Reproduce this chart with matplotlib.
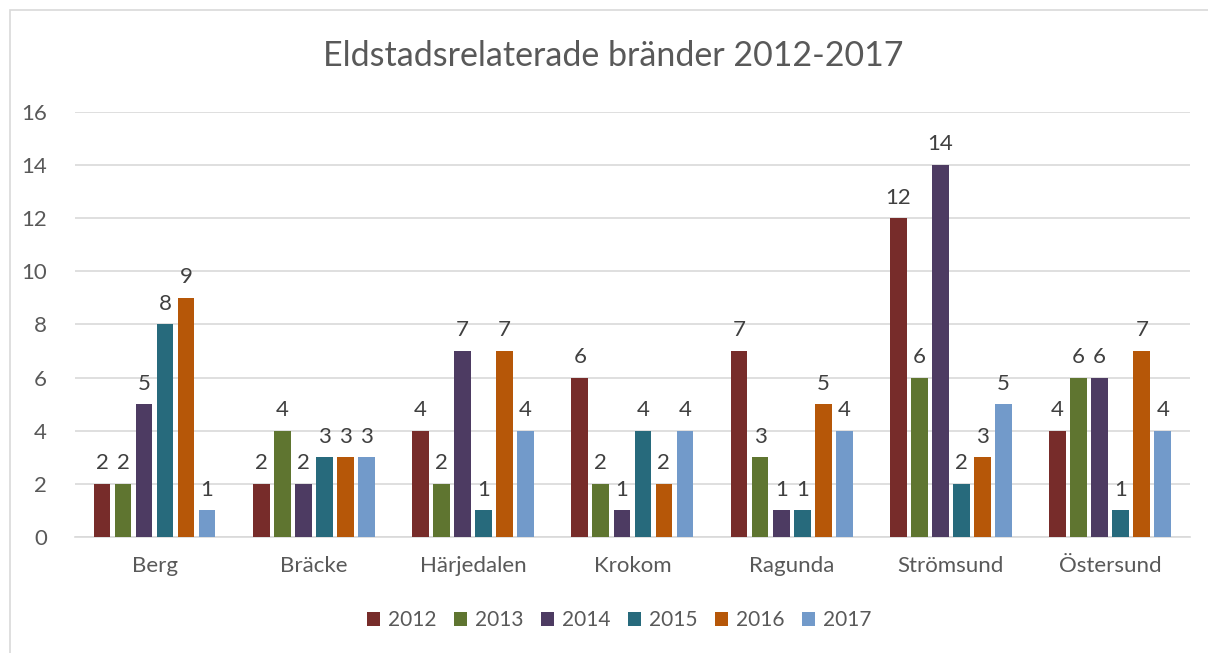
import numpy as np
import matplotlib.pyplot as plt
from matplotlib.patches import Rectangle

# Data
kommuner = ['Berg', 'Bräcke', 'Härjedalen', 'Krokom', 'Ragunda', 'Strömsund', 'Östersund']
years = ['2012', '2013', '2014', '2015', '2016', '2017']
v2012 = [2, 2, 4, 6, 7, 12, 4]
v2013 = [2, 4, 2, 2, 3, 6, 6]
v2014 = [5, 2, 7, 1, 1, 14, 6]
v2015 = [8, 3, 1, 4, 1, 2, 1]
v2016 = [9, 3, 7, 2, 5, 3, 7]
v2017 = [1, 3, 4, 4, 4, 5, 4]
series = [v2012, v2013, v2014, v2015, v2016, v2017]
colors = ['#772C2A', '#5F7530', '#4D3B62', '#276A7C', '#B65708', '#729ACA']

plt.rcParams['font.family'] = ['Lato', 'DejaVu Sans']
txt = '#595959'

fig = plt.figure(figsize=(12.08, 6.53), dpi=100)
ax = fig.add_axes([0.062, 0.1777, 0.923, 0.6508])

# chart border (light grey)
fig.patches.append(Rectangle((10 / 1208, -0.1), 1.2, 1 - 10 / 653 + 0.1,
                             transform=fig.transFigure, fill=False,
                             edgecolor='#D9D9D9', linewidth=1.2))

x = np.arange(len(kommuner))
step = 0.132
width = 0.105
for i, (vals, c, y) in enumerate(zip(series, colors, years)):
    pos = x + (i - 2.5) * step
    bars = ax.bar(pos, vals, width=width, color=c, label=y, zorder=3)
    for b, v in zip(bars, vals):
        ax.text(b.get_x() + b.get_width() / 2, v + 0.4, str(v),
                ha='center', va='bottom', fontsize=16, color='#404040')

ax.set_xlim(-0.5, len(kommuner) - 0.5)
ax.set_ylim(0, 16)
ax.set_yticks(range(0, 17, 2))
ax.set_xticks(x)
ax.set_xticklabels(kommuner)
ax.tick_params(axis='both', length=0, labelsize=16, colors=txt)
ax.tick_params(axis='x', pad=14)
ax.tick_params(axis='y', pad=20)
ax.grid(axis='y', color='#D9D9D9', linewidth=1.2, zorder=0)
for s in ['top', 'right', 'left']:
    ax.spines[s].set_visible(False)
ax.spines['bottom'].set_color('#D9D9D9')
ax.spines['bottom'].set_linewidth(1.2)

fig.text(0.508, 0.915, 'Eldstadsrelaterade bränder 2012-2017', ha='center', va='center',
         fontsize=24.5, color=txt)

ax.legend(loc='upper center', bbox_to_anchor=(0.488, -0.128), ncol=6, frameon=False,
          fontsize=15, labelcolor=txt, handlelength=0.65, handleheight=0.65,
          handletextpad=0.35, columnspacing=0.85)

fig.savefig('out.png', dpi=100)
